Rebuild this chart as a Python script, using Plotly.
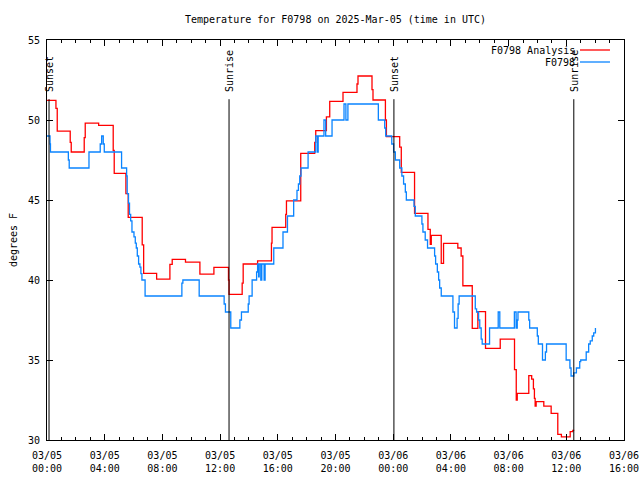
import pandas as pd
import plotly.graph_objects as go

# ---- data ----
start = "2025-03-05 00:00"

red_name = "F0798 Analysis"
red_hours = [0.00, 0.62, 0.71, 1.61, 1.68, 2.58, 2.65, 3.58, 4.59, 4.66, 5.47, 5.63,
             6.60, 6.70, 7.60, 8.52, 8.68, 9.60, 10.60, 11.57, 12.58, 12.62, 13.53,
             13.60, 14.60, 15.56, 15.60, 16.55, 16.60, 17.59, 18.56, 18.63, 19.37,
             19.60, 20.52, 21.49, 21.56, 22.53, 22.60, 23.46, 23.53, 24.45, 24.56,
             25.48, 26.41, 26.57, 26.64, 27.33, 27.49, 28.48, 28.71, 28.83, 29.48,
             29.87, 30.40, 31.42, 32.41, 32.53, 32.60, 33.40, 33.60, 33.72, 33.79,
             33.84, 33.91, 34.44, 34.95, 35.41, 35.66, 36.27, 36.45, 36.55]
red_temps = [51.23, 50.73, 49.31, 48.60, 48.00, 48.90, 49.80, 49.67, 48.10, 46.67, 45.40, 43.92,
             42.20, 40.42, 40.06, 40.98, 41.29, 41.12, 40.37, 40.79, 40.00, 39.10, 39.80,
             41.00, 41.19, 42.30, 43.29, 44.10, 44.94, 47.92, 48.60, 49.33, 50.20,
             51.17, 51.73, 52.25, 52.75, 51.90, 51.25, 50.00, 48.96, 48.30, 46.73,
             44.17, 43.17, 42.23, 42.79, 41.04, 42.29, 42.00, 41.50, 39.64, 36.98,
             38.02, 35.73, 36.31, 34.40, 32.50, 32.92, 34.02, 33.80, 33.20, 32.60,
             32.12, 32.40, 32.12, 31.67, 30.35, 30.20, 30.52, 30.60, 30.60]

blue_name = "F0798"
blue_hours = [0.00, 0.21, 0.24, 1.48, 1.54, 2.91, 3.69, 3.79, 3.90, 3.97, 5.17, 5.52,
              5.56, 5.65, 5.72, 5.80, 5.89, 6.03, 6.12, 6.19, 6.26, 6.35, 6.44, 6.51,
              6.58, 6.80, 9.35, 9.42, 10.55, 12.28, 12.37, 12.74, 13.37, 13.48, 13.95,
              14.01, 14.22, 14.53, 14.60, 14.67, 14.71, 14.82, 14.89, 15.05, 15.12,
              15.72, 16.36, 16.67, 17.10, 17.33, 17.43, 17.52, 17.61, 18.10, 18.63,
              18.75, 18.80, 19.20, 19.32, 19.76, 20.59, 20.72, 20.86, 22.97, 23.41,
              23.48, 23.90, 24.03, 24.15, 24.45, 24.60, 24.72, 24.84, 24.91, 25.44,
              25.53, 25.99, 26.06, 26.22, 26.38, 26.87, 26.94, 27.06, 27.15, 27.22,
              27.33, 28.14, 28.25, 28.43, 28.50, 28.57, 29.69, 29.78, 29.92, 30.00,
              30.10, 30.17, 30.68, 31.28, 31.39, 32.40, 32.52, 32.60, 32.65, 33.40,
              33.46, 33.99, 34.06, 34.35, 34.55, 34.63, 35.99, 36.25, 36.33, 36.52,
              36.70, 36.93, 37.00, 37.38, 37.55, 37.66, 37.80, 37.90, 38.02]
blue_temps = [49.0, 48.5, 48.0, 47.5, 47.0, 48.0, 48.5, 49.0, 48.5, 48.0, 47.0, 46.5,
              45.4, 44.8, 44.1, 43.7, 43.0, 42.7, 42.3, 42.0, 41.5, 41.0, 40.8, 40.4,
              40.0, 39.0, 39.8, 40.0, 39.0, 38.5, 38.0, 37.0, 37.5, 38.0, 38.5,
              39.0, 40.0, 40.5, 41.0, 40.2, 41.0, 40.0, 41.0, 40.0, 41.0,
              42.0, 43.0, 44.0, 45.0, 45.6, 46.0, 46.5, 47.0, 48.0, 49.0,
              48.0, 49.0, 50.0, 49.0, 50.0, 51.0, 50.0, 51.0, 50.0, 49.5,
              49.0, 48.5, 48.0, 47.5, 47.0, 46.5, 46.0, 45.5, 45.0, 44.6,
              44.0, 43.5, 43.0, 42.5, 42.0, 41.5, 41.0, 40.5, 40.0, 39.5,
              39.0, 38.0, 37.0, 37.6, 38.5, 39.0, 38.2, 38.0, 37.5, 37.0,
              36.3, 36.0, 37.0, 38.0, 37.0, 38.0, 37.0, 37.5, 38.0, 37.5,
              37.0, 36.5, 36.0, 35.0, 35.5, 36.0, 35.0, 34.5, 34.0, 34.2,
              34.5, 34.9, 35.0, 35.5, 36.0, 36.2, 36.5, 36.7, 37.0]

sun_hours = [0.14, 12.62, 24.05, 36.52]
sun_labels = ["Sunset", "Sunrise", "Sunset", "Sunrise"]
sun_line_top = 51.3
sun_label_base = 51.62

title_text = "Temperature for F0798 on 2025-Mar-05 (time in UTC)"
y_title = "degrees F"
x_range_hours = [0, 40]
y_range = [30, 55]

# ---- build ----
base = pd.Timestamp(start)
def to_time(hours):
    return base + pd.to_timedelta(pd.Series(hours, dtype=float), unit="h")

FONT = "DejaVu Sans Mono"
RED = "#ff0000"
BLUE = "#0a84ff"
W, H = 640, 480

fig = go.Figure()
fig.add_trace(go.Scatter(x=to_time(red_hours), y=red_temps, mode="lines", name=red_name,
                         line=dict(color=RED, width=1.3, shape="hv"), showlegend=False))
fig.add_trace(go.Scatter(x=to_time(blue_hours), y=blue_temps, mode="lines", name=blue_name,
                         line=dict(color=BLUE, width=1.3, shape="hv"), showlegend=False))

sun_times = to_time(sun_hours)
for t, lab in zip(sun_times, sun_labels):
    fig.add_shape(type="line", xref="x", yref="y", x0=t, x1=t, y0=y_range[0], y1=sun_line_top,
                  line=dict(color="black", width=1))
    fig.add_annotation(x=t, y=sun_label_base, xref="x", yref="y", text=lab, showarrow=False,
                       textangle=-90, xanchor="center", yanchor="bottom",
                       font=dict(family=FONT, size=10, color="black"))

# legend (gnuplot style: text then sample on the right)
for i, (name, col) in enumerate([(red_name, RED), (blue_name, BLUE)]):
    yp = 0.975 - i * 0.03
    fig.add_annotation(x=0.9185, y=yp, xref="paper", yref="paper", text=name, showarrow=False,
                       xanchor="right", yanchor="middle",
                       font=dict(family=FONT, size=10, color="black"))
    fig.add_shape(type="line", xref="paper", yref="paper", x0=0.9237, x1=0.9757, y0=yp, y1=yp,
                  line=dict(color=col, width=1.3))

fig.update_layout(
    width=W, height=H,
    margin=dict(l=47, r=16, t=40, b=40, autoexpand=False),
    paper_bgcolor="white", plot_bgcolor="white",
    font=dict(family=FONT, size=10, color="black"),
    title=dict(text=title_text, x=0.5, xref="paper", xanchor="center",
               y=1 - 19 / H, yref="container", yanchor="middle",
               font=dict(family=FONT, size=10, color="black")),
    showlegend=False,
)
fig.update_xaxes(
    type="date", automargin=False,
    range=list(to_time(x_range_hours)),
    tick0=base, dtick=4 * 3600000, tickformat="%m/%d<br>%H:%M",
    ticks="inside", ticklen=6, tickcolor="black", tickwidth=1,
    minor=dict(dtick=3600000, ticks="inside", ticklen=3, tickcolor="black", showgrid=False),
    showline=True, linecolor="black", linewidth=1, mirror="ticks",
    showgrid=False, zeroline=False, ticklabelstandoff=6,
    tickfont=dict(family=FONT, size=10, color="black"),
)
fig.update_yaxes(
    automargin=False,
    range=y_range, dtick=5, tick0=0,
    ticks="inside", ticklen=6, tickcolor="black", tickwidth=1,
    showline=True, linecolor="black", linewidth=1, mirror="ticks",
    showgrid=False, zeroline=False, ticklabelstandoff=4,
    title=dict(text=y_title, standoff=8, font=dict(family=FONT, size=10, color="black")),
    tickfont=dict(family=FONT, size=10, color="black"),
)

fig.write_html("out.html", config={"displayModeBar": False},
               post_script="document.body.style.margin='0';document.body.style.overflow='hidden';")
